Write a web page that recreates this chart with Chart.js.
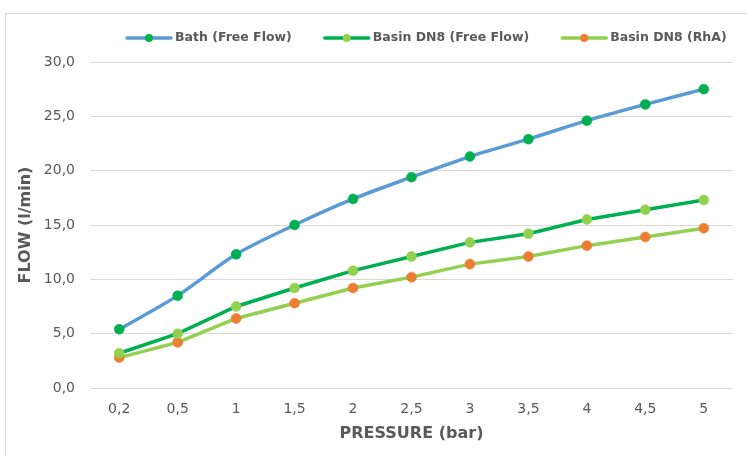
<!DOCTYPE html>
<html>
<head>
<meta charset="utf-8">
<script src="https://cdn.jsdelivr.net/npm/chart.js@4.4.1/dist/chart.umd.min.js"></script>
<style>
    html, body { margin: 0; padding: 0; background: #ffffff; }
    #wrap { position: relative; width: 747px; height: 456px; overflow: hidden; }
    #frame { position: absolute; left: 5px; top: 13px; right: -5px; bottom: -5px;
             border-left: 1px solid #d9d9d9; border-top: 1px solid #d9d9d9; }
    canvas { position: absolute; left: 0; top: 0; }
</style>
</head>
<body>
<div id="wrap">
    <div id="frame"></div>
    <canvas id="chart" width="747" height="456"></canvas>
</div>
<script>
// Trykk (bar) langs x-aksen
const pressureLabels = ['0,2', '0,5', '1', '1,5', '2', '2,5', '3', '3,5', '4', '4,5', '5'];

// Gjennomstrømning (l/min), lest av bildet
const bathFreeFlow  = [5.4, 8.5, 12.3, 15.0, 17.4, 19.4, 21.3, 22.9, 24.6, 26.1, 27.5];
const basinFreeFlow = [3.2, 5.0, 7.5, 9.2, 10.8, 12.1, 13.4, 14.2, 15.5, 16.4, 17.3];
const basinRhA      = [2.8, 4.2, 6.4, 7.8, 9.2, 10.2, 11.4, 12.1, 13.1, 13.9, 14.7];

const seriesNames = ['Bath (Free Flow)', 'Basin DN8 (Free Flow)', 'Basin DN8 (RhA)'];

const yMin = 0;
const yMax = 30;
const yStep = 5;

const textColor = '#595959';
const gridColor = '#d9d9d9';

// Egen legende i Excel-stil: linje med punkt i midten
const lineLegend = {
    id: 'lineLegend',
    afterDraw(chart) {
        const ctx = chart.ctx;
        const y = 38;
        let x = 127;
        ctx.save();
        ctx.font = 'bold 12.5px "DejaVu Sans"';
        ctx.textBaseline = 'middle';
        ctx.textAlign = 'left';
        chart.data.datasets.forEach(ds => {
            ctx.strokeStyle = ds.borderColor;
            ctx.lineWidth = 3.5;
            ctx.lineCap = 'round';
            ctx.beginPath();
            ctx.moveTo(x, y);
            ctx.lineTo(x + 44, y);
            ctx.stroke();
            ctx.fillStyle = ds.pointBackgroundColor;
            ctx.beginPath();
            ctx.arc(x + 22, y, 4, 0, Math.PI * 2);
            ctx.fill();
            ctx.fillStyle = textColor;
            ctx.fillText(ds.label, x + 48, y);
            x += 48 + ctx.measureText(ds.label).width + 33;
        });
        ctx.restore();
    }
};

const ctx = document.getElementById('chart').getContext('2d');

new Chart(ctx, {
    type: 'line',
    data: {
        labels: pressureLabels,
        datasets: [
            {
                label: seriesNames[0],
                data: bathFreeFlow,
                borderColor: '#5b9bd5',
                backgroundColor: '#5b9bd5',
                pointBackgroundColor: '#00b050',
                pointBorderColor: '#00b050',
                borderWidth: 3.5,
                pointRadius: 5,
                pointBorderWidth: 0.5,
                tension: 0.3
            },
            {
                label: seriesNames[1],
                data: basinFreeFlow,
                borderColor: '#00b050',
                backgroundColor: '#00b050',
                pointBackgroundColor: '#92d050',
                pointBorderColor: '#92d050',
                borderWidth: 3.5,
                pointRadius: 5,
                pointBorderWidth: 0.5,
                tension: 0
            },
            {
                label: seriesNames[2],
                data: basinRhA,
                borderColor: '#92d050',
                backgroundColor: '#92d050',
                pointBackgroundColor: '#ed7d31',
                pointBorderColor: '#ed7d31',
                borderWidth: 3.5,
                pointRadius: 5,
                pointBorderWidth: 0.5,
                tension: 0
            }
        ]
    },
    options: {
        responsive: false,
        animation: false,
        layout: {
            padding: { top: 62, right: 14, bottom: 0, left: 0 }
        },
        plugins: {
            legend: { display: false },
            tooltip: { enabled: false }
        },
        scales: {
            x: {
                offset: true,
                grid: { display: false, drawTicks: false },
                border: { display: false },
                ticks: {
                    color: textColor,
                    padding: 13,
                    maxRotation: 0,
                    font: { family: '"DejaVu Sans"', size: 14 }
                },
                title: {
                    display: true,
                    text: 'PRESSURE (bar)',
                    color: textColor,
                    padding: { top: 0, bottom: 13 },
                    font: { family: '"DejaVu Sans"', size: 16, weight: 'bold' }
                },
                afterFit: scale => { scale.height = 68; }
            },
            y: {
                min: yMin,
                max: yMax,
                grid: { color: gridColor, lineWidth: 1, drawTicks: false },
                border: { display: false },
                ticks: {
                    stepSize: yStep,
                    color: textColor,
                    padding: 15,
                    font: { family: '"DejaVu Sans"', size: 14 },
                    callback: value => value.toFixed(1).replace('.', ',')
                },
                title: {
                    display: true,
                    text: 'FLOW (l/min)',
                    color: textColor,
                    padding: { top: 16, bottom: 0 },
                    font: { family: '"DejaVu Sans"', size: 16, weight: 'bold' }
                },
                afterFit: scale => { scale.width = 90; }
            }
        }
    },
    plugins: [lineLegend]
});
</script>
</body>
</html>
